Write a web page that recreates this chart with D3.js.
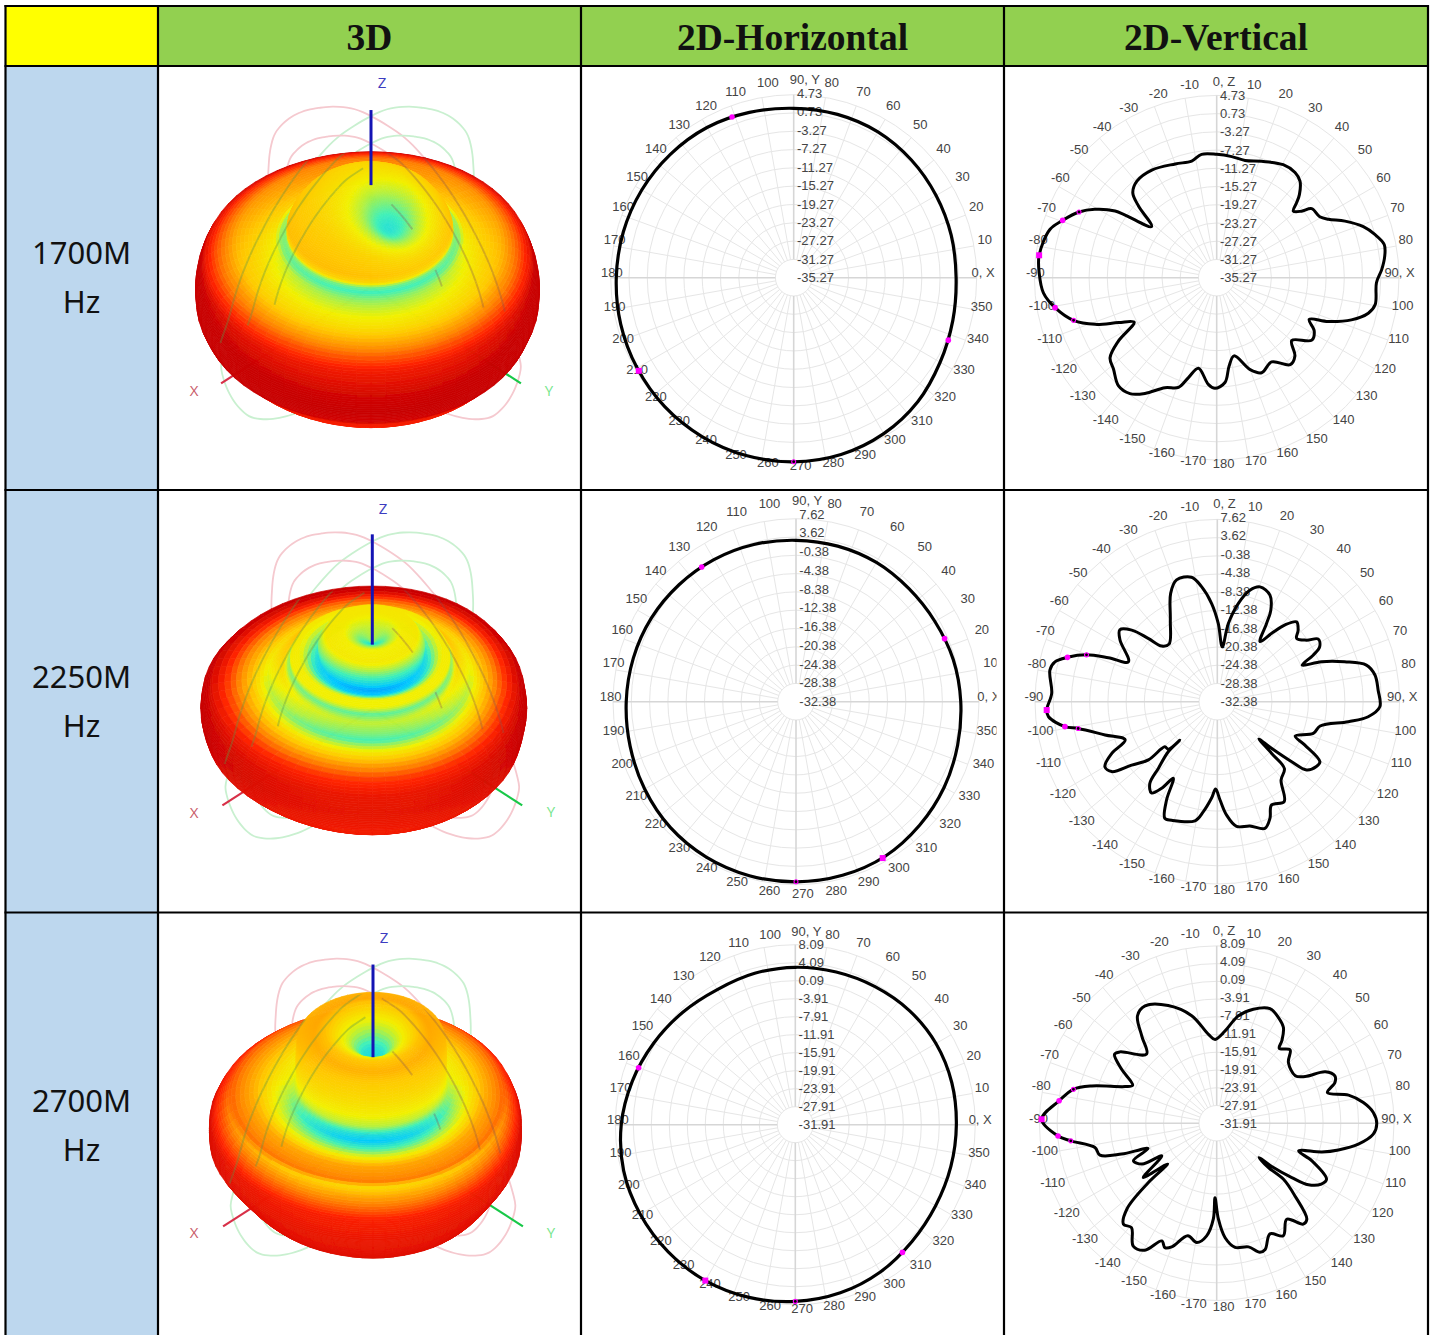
<!DOCTYPE html>
<html lang="en">
<head>
<meta charset="UTF-8">
<title>Antenna radiation patterns</title>
<script src="https://d3js.org/d3.v7.min.js"></script>
<style>
    html, body { margin: 0; padding: 0; background: #fff; overflow: hidden; }
    svg { display: block; }
</style>
</head>
<body>
<svg id="chart" width="1435" height="1335"></svg>
<script>
// table text
const bands = ["1700M", "2250M", "2700M"];
const headers = ["3D", "2D-Horizontal", "2D-Vertical"];
const verticalLabels = ["0, Z", "10", "20", "30", "40", "50", "60", "70", "80", "90, X", "100", "110", "120", "130", "140", "150", "160", "170", "180",
    "-170", "-160", "-150", "-140", "-130", "-120", "-110", "-100", "-90", "-80", "-70", "-60", "-50", "-40", "-30", "-20", "-10"];
const horizontalLabels = ["0, X", "10", "20", "30", "40", "50", "60", "70", "80", "90, Y", "100", "110", "120", "130", "140", "150", "160", "170", "180",
    "190", "200", "210", "220", "230", "240", "250", "260", "270", "280", "290", "300", "310", "320", "330", "340", "350"];

// radial tick values, dB
const rings1700 = [4.73, 0.73, -3.27, -7.27, -11.27, -15.27, -19.27, -23.27, -27.27, -31.27, -35.27];
const rings2250 = [7.62, 3.62, -0.38, -4.38, -8.38, -12.38, -16.38, -20.38, -24.38, -28.38, -32.38];
const rings2700 = [8.09, 4.09, 0.09, -3.91, -7.91, -11.91, -15.91, -19.91, -23.91, -27.91, -31.91];

// horizontal cuts: angle (deg, counter clockwise from X) and gain (dB)
const hAngles = [0, 15, 30, 45, 60, 75, 90, 105, 120, 135, 150, 165, 180, 195, 210, 225, 240, 255, 270, 285, 300, 315, 330, 345];
const h1700Gains = [0.23, 0.38, 0.67, 1.11, 1.54, 1.69, 1.76, 2.13, 2.64, 2.86, 3.08, 3.29, 3.51, 3.88, 4.24, 4.6, 4.82, 4.97, 4.97, 4.75, 4.1, 3.08, 1.69, 0.74];
const h1700MarkAngles = [111, 338, 211, 270];
const h1700MarkGains = [2.35, 1.18, 4.24, 4.97];
const h2250Gains = [3.63, 3.2, 2.68, 2.54, 2.76, 2.83, 2.9, 3.2, 3.49, 3.78, 4.14, 4.43, 4.73, 5.16, 5.82, 6.48, 6.84, 6.99, 6.99, 6.91, 6.62, 5.82, 5.02, 4.2];
const h2250MarkAngles = [23, 125, 299, 270];
const h2250MarkGains = [2.9, 3.56, 6.7, 6.99];
const h2700Gains = [3.88, 4.1, 4.18, 3.95, 3.51, 3.21, 3.07, 2.92, 2.77, 3.44, 4.4, 5.58, 6.77, 7.59, 7.88, 8.03, 8.09, 7.81, 7.36, 6.77, 5.88, 4.77, 4.1, 3.88];
const h2700MarkAngles = [160, 310, 240, 270];
const h2700MarkGains = [5.14, 5.14, 8.09, 7.36];
const hKinds = ["f", "f", "b", "h"];

// vertical cuts: angle (deg, clockwise from Z) and gain (dB)
const v1700Angles = [0, 7.1, 13.6, 21.1, 30.5, 36.7, 40.8, 44.8, 46.8, 49, 51.9, 54, 59.4, 62.4, 66.2, 70.8, 74.7, 78.8, 82.7, 87.1, 91.8, 99.6, 103.2, 107.4, 111.5, 114.3, 118.6, 123.3, 129.9, 135, 139.8, 146.9, 154.7, 160, 167.5, 172, 175.5, 180.9, 184.5, 191.4, 195.8, 199.2, 205.2, 211.8, 216.8, 222.2, 228.4, 233.1, 237.2, 241.7, 245.4, 249, 253.4, 259.5, 265, 271.6, 277.2, 286.2, 290.4, 295.5, 299.3, 303.3, 308.1, 312.5, 315.3, 320.4, 328.9, 340, 347.9, 353];
const v1700Gains = [-8.2, -8.5, -8.8, -7.9, -6.5, -6.5, -7.3, -9.5, -11.2, -13, -11.6, -9.5, -9, -7.6, -4.5, -1.2, 0.7, 2.2, 1.9, 1, -0.2, 0, -1.1, -4.3, -9, -13, -10.9, -10.3, -13.8, -11, -10.3, -13.2, -12.2, -13.8, -17.7, -15.7, -12.2, -11, -11.8, -15, -12.5, -9.8, -8.6, -5.4, -3.5, -3.2, -5, -6, -9.6, -14.7, -11.6, -6.7, -2.5, 0.8, 2.9, 3.7, 4, 2.8, 0.8, -1.8, -4.6, -8.6, -17.1, -12, -9.1, -7.8, -7.7, -8.7, -9.1, -8];
const v1700MarkAngles = [277.2, 290.4, 259.5, 295.5, 253.4];
const v1700MarkGains = [4, 0.8, 0.8, -1.8, -2.5];

const v2250Angles = [5.2, 8, 12.1, 16.3, 20.4, 26.3, 30.3, 32.2, 35.4, 38.5, 41.4, 44.8, 48.5, 51.4, 55.4, 58.2, 61.8, 64.1, 66.7, 69, 72.6, 76.2, 80.4, 85.9, 91.8, 95.7, 98.7, 103.3, 108.3, 113.8, 116.3, 120.3, 123.2, 127.4, 128.9, 130.7, 131.9, 133.6, 134.9, 140.9, 146.2, 152.3, 155.7, 159.4, 165.3, 171.2, 175.3, 178.4, 181.1, 183.4, 187.3, 190.6, 201.1, 204.2, 207.3, 209.9, 212.7, 215.8, 219.5, 221.5, 224.4, 224.2, 225.8, 229.3, 229.8, 233.5, 236.5, 240, 243.9, 247.5, 253.5, 259.1, 260.7, 264.9, 267.2, 272.9, 280.7, 283.8, 286.5, 289.7, 292, 294.2, 302.4, 306.4, 309.9, 312.5, 315, 320, 330.1, 336.7, 341.5, 348.3, 352.2, 356.7, 360.7];
const v2250Gains = [-20.3, -15.1, -10.3, -6.9, -5.5, -6.3, -9.1, -12.1, -16.2, -13.2, -9.9, -7.7, -8.7, -10.1, -8.6, -6.3, -6.9, -9, -12.1, -7.9, -3.1, 1.3, 2.7, 3, 3.3, 0.9, -3.3, -9.2, -10.2, -13.7, -11, -6.3, -6.4, -7.7, -11.4, -16.7, -20.1, -15.9, -11.6, -10.2, -6, -6.8, -4.3, -2.7, -4.2, -4.7, -7.4, -10.8, -13.2, -11.2, -8, -5.8, -4.5, -4.3, -8.1, -13, -9.8, -7.7, -9.1, -12.9, -17, -20.6, -17.4, -17.2, -12.6, -9, -4.6, -3.9, -6.6, -10.5, -6.7, -1.3, 1.5, 4.8, 5.1, 4, 5, 4.3, 1.9, -1.9, -6.6, -11, -7.1, -5.8, -7.9, -11.8, -15.1, -15.9, -11.7, -6.5, -4.2, -4.5, -6.9, -10.8, -15.2];
const v2250MarkAngles = [267.2, 286.5, 260.7, 289.7, 259.1];
const v2250MarkGains = [5.1, 1.9, 1.5, -1.9, -1.3];

const v2700Angles = [-1.1, 5.2, 11.4, 17.8, 24.9, 30.3, 34.9, 38.3, 39.9, 45, 49.7, 58.9, 62.2, 64.7, 68.2, 71, 74.6, 78, 82, 86.1, 90.2, 94, 98.4, 102.4, 105.3, 108.7, 111.6, 117, 120.2, 123.9, 125.9, 128.2, 129, 130.6, 130, 132.9, 136.8, 139.4, 143.9, 149.4, 154.3, 159, 161.5, 165.6, 171.6, 175.8, 179, 181.3, 182, 185.1, 189.5, 194.4, 200, 202.6, 205, 209.5, 214.2, 219.2, 222.7, 226.3, 229, 230.3, 233.5, 239.3, 241.3, 245.7, 249.7, 252, 254.7, 258.7, 263.1, 265.4, 271.3, 278.1, 283.3, 286.6, 291.8, 294.3, 299.6, 304, 306.4, 314.6, 319.3, 323.6, 328.6, 337.6, 346.9, 354.7];
const v2700Gains = [-13, -11, -7.2, -4.9, -3.4, -4.3, -5.6, -8.2, -9.9, -8.5, -10.7, -11.2, -9.35, -4.8, -3.2, -3.7, -6, -1.5, 1.5, 3.5, 4.2, 3.5, 0.4, -3.8, -7.3, -12.4, -8.8, -4.1, -4.6, -7, -11, -16.1, -19.6, -16.6, -12.3, -7.8, -2.2, -1.9, -5.1, -2.4, -4.2, -1.4, -1.2, -3.1, -3.6, -6, -10.3, -15.1, -10.3, -6.4, -4.6, -5.7, -2.2, -1.5, -2.6, 1, 1.6, -1.5, -0.9, -3.9, -11.5, -17.5, -11.3, -17.5, -12.7, -11.3, -15.4, -9.35, -4.6, -3.9, 1.25, 4, 7.6, 4, 1.3, -2.5, -9.65, -11.1, -7.2, -4.1, -4.8, -9.7, -6, -1.8, -0.9, -3.2, -7, -11.8];
const v2700MarkAngles = [271.3, 278.1, 265.4, 283.3, 263.1];
const v2700MarkGains = [7.6, 4, 4, 1.3, 1.25];
const vKinds = ["b", "f", "f", "h", "h"];

// 3D lobes: revolve a profile of polar angle (deg from +Z), radius and colour level
const lobe1700Polar = [0, 20, 35, 45, 48, 50, 53, 57, 62, 67, 72, 76, 80, 85, 90, 97, 104, 107, 115, 122, 135, 180];
const lobe1700Radius = [133, 132, 125, 116, 112, 108, 106, 115, 128, 144, 158, 167, 169, 171, 172, 172, 168, 163, 155, 147, 130, 110];
const lobe1700Level = [0.56, 0.58, 0.62, 0.64, 0.58, 0.36, 0.29, 0.38, 0.47, 0.56, 0.7, 0.82, 0.9, 0.94, 0.98, 1, 0.97, 0.9, 0.88, 0.88, 0.9, 0.9];

const lobe2250Polar = [0, 8, 16, 25, 32, 37, 41, 45, 49, 53, 58, 64, 67, 71, 75, 78, 83, 90, 100, 110, 125, 140, 180];
const lobe2250Radius = [84, 95, 105, 108, 100, 86, 87, 101, 105, 100, 103, 107, 110, 122, 140, 156, 162, 163, 160, 145, 125, 105, 95];
const lobe2250Level = [0.2, 0.3, 0.5, 0.52, 0.3, 0.1, 0.15, 0.5, 0.5, 0.32, 0.44, 0.36, 0.3, 0.52, 0.72, 0.86, 0.92, 0.93, 0.9, 0.9, 0.92, 0.92, 0.92];

const lobe2700Polar = [0, 6, 12, 20, 25, 32, 38, 43, 48, 53, 57, 62, 67, 70, 72, 73, 78, 85, 95, 105, 118, 130, 180];
const lobe2700Radius = [95, 100, 118, 137, 136, 139, 122, 110, 100, 96, 96, 107, 125, 136, 143, 145, 152, 156, 156, 146, 138, 127, 100];
const lobe2700Level = [0.22, 0.25, 0.45, 0.62, 0.66, 0.6, 0.55, 0.5, 0.42, 0.22, 0.15, 0.36, 0.68, 0.72, 0.76, 0.56, 0.72, 0.88, 0.92, 0.93, 0.95, 0.95, 0.95];
// far side of this lobe has no ridge, the rim just reddens
const lobe2700BackLevel = [0.22, 0.25, 0.45, 0.64, 0.68, 0.66, 0.6, 0.55, 0.52, 0.5, 0.5, 0.54, 0.66, 0.74, 0.8, 0.83, 0.9, 0.98, 0.98, 0.95, 0.95, 0.95, 0.95];

// off-axis dimple on the top lobe, one entry per band
const dimplePolar = [16, 0, 0];
const dimpleAzimuth = [45, 0, 0];
const dimpleDepth = [38, 0, 0];
const dimpleLevel = [0.33, 0, 0];

// the lobes lean a little to the left of the Z axis at their widest
const lobeLean = [-3.5, -8.5, -8];

// cut outlines drawn around the 3D lobe
const loopAngles = [-75, -64, -49, -21, -5, 13, 27, 43, 69, 84, 112, 132, 150];
const loopRadii = [150, 161, 181, 204, 221, 229, 223, 215, 205, 214, 184, 150, 120];
const loopScales = [1, 0.84];
const loopBandScale = [1, 0.98, 0.95];
// parts of those outlines seen on the surface: scale, from, to
const pinkThrough = [[1, 4, 69], [0.84, 4, 69], [0.56, 13, 30], [0.56, 50, 60]];
const greenThrough = [[1.05, 4, 76], [0.88, 4, 73], [0.72, 4, 67]];

const svg = d3.select("#chart");
const font = "'Liberation Sans', Arial, sans-serif";

// grid of the table
const colX = [5.5, 158, 581, 1004, 1428];
const rowY = [6, 66, 490, 912.5, 1340];

const levelColor = d3.scaleLinear()
    .domain([0, 0.15, 0.3, 0.42, 0.5, 0.62, 0.75, 0.87, 1])
    .range(["#0050ff", "#00c8ff", "#40f0b8", "#b4f040", "#f2f000", "#ffc800", "#ff8000", "#ff2400", "#c80000"]);

// soft edge of the 3D pictures
const soft = svg.append("defs").append("filter").attr("id", "soft");
soft.append("feGaussianBlur").attr("stdDeviation", 0.55);

function drawPolar(g, o) {
    const bottom = o.rings[o.rings.length - 1];
    const r = d3.scaleLinear().domain([bottom, o.rings[0]]).range([0, o.R]);
    const k = o.labelR / 182.3;
    const chart = g.append("g").attr("transform", `translate(${o.cx},${o.cy})`);

    chart.selectAll("circle.ring")
        .data(o.rings.slice(0, -1))
        .enter()
        .append("circle")
        .attr("class", "ring")
        .attr("r", d => r(d))
        .attr("fill", "none")
        .attr("stroke", "#e6e6e6");

    const hole = r(o.rings[o.rings.length - 2]);
    chart.selectAll("line.spoke")
        .data(d3.range(36))
        .enter()
        .append("line")
        .attr("class", "spoke")
        .attr("x1", i => hole * Math.sin(i * Math.PI / 18))
        .attr("y1", i => -hole * Math.cos(i * Math.PI / 18))
        .attr("x2", i => o.R * Math.sin(i * Math.PI / 18))
        .attr("y2", i => -o.R * Math.cos(i * Math.PI / 18))
        .attr("stroke", i => i % 9 === 0 ? "#d6d6d6" : "#e6e6e6")
        .attr("stroke-width", i => i % 9 === 0 ? 1.6 : 1);

    // angle labels, left anchored like the original plot
    chart.selectAll("text.angle")
        .data(o.labels)
        .enter()
        .append("text")
        .attr("class", "angle")
        .attr("x", (d, i) => {
            const t = o.thetaOf(i * 10) * Math.PI / 180;
            const s = Math.sin(t);
            let tweak = 0;
            if (d === "90, X") tweak = -15;
            else if (d === "0, X") tweak = -7;
            else if (!d.startsWith("-") && d.length === 3 && s > 0.97) tweak = -4.7;
            else if (!d.startsWith("-") && d.length === 2 && s > 0 && Math.cos(t) > 0) tweak = 2;
            return -4 + 186.7 * k * s + tweak;
        })
        .attr("y", (d, i) => -5 - 191 * k * Math.cos(o.thetaOf(i * 10) * Math.PI / 180))
        .attr("dy", "0.35em")
        .style("font-family", font)
        .style("font-size", "13px")
        .attr("fill", "#444")
        .text(d => d);

    const labelStep = o.labelR / (o.rings.length - 1);
    chart.selectAll("text.gain")
        .data(o.rings)
        .enter()
        .append("text")
        .attr("class", "gain")
        .attr("x", 3.3)
        .attr("y", (d, i) => -(o.rings.length - 1 - i) * labelStep)
        .attr("dy", "0.35em")
        .style("font-family", font)
        .style("font-size", "13px")
        .attr("fill", "#444")
        .text(d => d.toFixed(2));

    const outline = d3.lineRadial()
        .angle(d => o.thetaOf(d.a) * Math.PI / 180)
        .radius(d => r(d.g))
        .curve(o.curve);

    chart.append("path")
        .attr("d", outline(o.angles.map((a, i) => ({ a: a, g: o.gains[i] }))))
        .attr("fill", "none")
        .attr("stroke", "#000")
        .attr("stroke-width", o.lineWidth)
        .attr("stroke-linejoin", "round");

    // magenta peak and half power markers
    o.markAngles.forEach((a, i) => {
        const t = o.thetaOf(a) * Math.PI / 180;
        const x = r(o.markGains[i]) * Math.sin(t);
        const y = -r(o.markGains[i]) * Math.cos(t);
        const kind = o.markKinds[i];
        if (kind === "b") {
            chart.append("rect").attr("x", x - 3).attr("y", y - 3).attr("width", 6).attr("height", 6).attr("fill", "#ff00ff");
        } else if (kind === "f") {
            chart.append("circle").attr("cx", x).attr("cy", y).attr("r", 2.8).attr("fill", "#ff00ff");
        } else {
            chart.append("circle").attr("cx", x).attr("cy", y).attr("r", 2).attr("fill", "#000").attr("stroke", "#ff00ff").attr("stroke-width", 1.1);
        }
    });
}

const tiltCos = Math.cos(40 * Math.PI / 180);
const tiltSin = Math.sin(40 * Math.PI / 180);

function drawLobe(g, o, band) {
    const rOf = d3.scaleLinear().domain(o.polar).range(o.radius);
    const levelOf = d3.scaleLinear().domain(o.polar).range(o.level);
    const backOf = o.backLevel ? d3.scaleLinear().domain(o.polar).range(o.backLevel) : null;
    const rad = Math.PI / 180;
    const dPol = dimplePolar[band] * rad, dAz = dimpleAzimuth[band] * rad;
    const dDir = [Math.sin(dPol) * Math.sin(dAz), Math.sin(dPol) * Math.cos(dAz), Math.cos(dPol)];

    const project = (x, f, z) => [o.cx + x, o.cy - z * tiltCos + f * tiltSin];

    function vertex(alpha, phi) {
        const a = alpha * rad, p = phi * rad;
        const dir = [Math.sin(a) * Math.sin(p), Math.sin(a) * Math.cos(p), Math.cos(a)];
        const off = Math.acos(Math.min(1, dir[0] * dDir[0] + dir[1] * dDir[1] + dir[2] * dDir[2])) / rad;
        const w = Math.exp(-off * off / (2 * 13 * 13));
        const r = rOf(alpha) - dimpleDepth[band] * w;
        // colour is not quite symmetric: the valleys fade and the rim reddens towards the back
        const away = (1 - Math.cos(p)) / 2;
        let level = levelOf(alpha);
        if (backOf) {
            level += (backOf(alpha) - level) * Math.min(1, away * 1.6);
        } else {
            if (level < 0.55) level += (0.55 - level) * 0.55 * away;
            if (alpha > 55) level = Math.min(1, level + 0.2 * away);
        }
        level -= dimpleLevel[band] * w;
        const x = r * dir[0], f = r * dir[1], z = r * dir[2];
        const lean = lobeLean[band] * Math.min(1, (x / 160) * (x / 160));
        return { s: project(x + lean, f, z), depth: f * tiltCos + z * tiltSin, level: level };
    }

    function buildFacets(da, dp) {
        const out = [];
        for (let a = 0; a < 180; a += da) {
            for (let p = 0; p < 360; p += dp) {
                const v = [vertex(a, p), vertex(a, p + dp), vertex(a + da, p + dp), vertex(a + da, p)];
                if (d3.polygonArea(v.map(d => d.s)) >= 0) continue;
                out.push({
                    pts: v.map(d => d.s),
                    depth: d3.mean(v, d => d.depth),
                    level: d3.mean(v, d => d.level)
                });
            }
        }
        return out;
    }
    const facetPath = d => "M" + d.pts.map(p => p[0].toFixed(1) + "," + p[1].toFixed(1)).join("L") + "Z";

    // wire loops, behind the lobe
    const loopR = d3.scaleLinear().domain(loopAngles).range(loopRadii);
    function loopPoints(scale, side, from, to) {
        return d3.range(from, to + 0.01, 3).map(t => {
            const rr = loopR(t) * scale * loopBandScale[band];
            const h = rr * Math.sin(t * rad);
            const z = rr * Math.cos(t * rad);
            return project(side * h * Math.SQRT1_2, h * Math.SQRT1_2, z);
        });
    }
    const wire = d3.line().curve(d3.curveBasis);
    loopScales.forEach(s => {
        g.append("path").attr("d", wire(loopPoints(s, 1, -75, 150)))
            .attr("fill", "none").attr("stroke", "#f5c9cf").attr("stroke-width", 1.8);
        g.append("path").attr("d", wire(loopPoints(s, -1, -75, 150)))
            .attr("fill", "none").attr("stroke", "#c9f0d0").attr("stroke-width", 1.8);
    });

    // X and Y stubs
    const xEnd = project(-212 * Math.SQRT1_2, 212 * Math.SQRT1_2, 0);
    const yEnd = project(212 * Math.SQRT1_2, 212 * Math.SQRT1_2, 0);
    g.append("line").attr("x1", o.cx).attr("y1", o.cy).attr("x2", xEnd[0]).attr("y2", xEnd[1])
        .attr("stroke", "#d83048").attr("stroke-width", 2.2);
    g.append("line").attr("x1", o.cx).attr("y1", o.cy).attr("x2", yEnd[0]).attr("y2", yEnd[1])
        .attr("stroke", "#18c848").attr("stroke-width", 2.2);

    // facets of the surface, back to front
    const facets = buildFacets(1, 5);
    facets.sort((a, b) => d3.ascending(a.depth, b.depth));
    g.append("g")
        .attr("filter", "url(#soft)")
        .selectAll("path")
        .data(facets)
        .enter()
        .append("path")
        .attr("d", facetPath)
        .attr("fill", d => levelColor(d.level))
        .attr("stroke", d => levelColor(d.level))
        .attr("stroke-width", 0.7);

    // coarse copy of the surface used to keep the lines below on the lobe
    const clip = svg.select("defs").append("clipPath").attr("id", "lobeClip" + band);
    clip.selectAll("path")
        .data(buildFacets(5, 10))
        .enter()
        .append("path")
        .attr("d", facetPath);

    // the same outlines seen on the surface
    const onSurface = g.append("g").attr("clip-path", `url(#lobeClip${band})`);
    pinkThrough.forEach(t => {
        onSurface.append("path").attr("d", wire(loopPoints(t[0], 1, t[1], t[2])))
            .attr("fill", "none").attr("stroke", "rgba(130,85,80,0.32)").attr("stroke-width", 1.9);
    });
    greenThrough.forEach(t => {
        onSurface.append("path").attr("d", wire(loopPoints(t[0], -1, t[1], t[2])))
            .attr("fill", "none").attr("stroke", "rgba(95,150,70,0.36)").attr("stroke-width", 1.9);
    });

    // Z axis on top
    const zTop = project(0, 0, o.zTop), zEnd = project(0, 0, o.zEnd);
    g.append("line").attr("x1", zTop[0]).attr("y1", zTop[1]).attr("x2", zEnd[0]).attr("y2", zEnd[1])
        .attr("stroke", "#1414b4").attr("stroke-width", 3);

    const axisText = [["Z", o.zLabel, "#3c3cc0"], ["X", o.xLabel, "#c85a68"], ["Y", o.yLabel, "#78e68c"]];
    g.selectAll("text.axis")
        .data(axisText)
        .enter()
        .append("text")
        .attr("class", "axis")
        .attr("x", d => d[1][0])
        .attr("y", d => d[1][1])
        .attr("dy", "0.35em")
        .attr("text-anchor", "middle")
        .style("font-family", "'Open Sans', sans-serif")
        .style("font-size", "15px")
        .attr("fill", d => d[2])
        .text(d => d[0]);
}

// cell backgrounds
const bg = svg.append("g");
bg.append("rect").attr("x", colX[0]).attr("y", rowY[0]).attr("width", colX[1] - colX[0]).attr("height", rowY[1] - rowY[0]).attr("fill", "#ffff00");
bg.append("rect").attr("x", colX[1]).attr("y", rowY[0]).attr("width", colX[4] - colX[1]).attr("height", rowY[1] - rowY[0]).attr("fill", "#92d050");
bg.append("rect").attr("x", colX[0]).attr("y", rowY[1]).attr("width", colX[1] - colX[0]).attr("height", rowY[4] - rowY[1]).attr("fill", "#bdd7ee");

const lobes = [
    { polar: lobe1700Polar, radius: lobe1700Radius, level: lobe1700Level, cx: 371, cy: 287, zTop: 231, zEnd: 133, zLabel: [382, 83], xLabel: [194, 391], yLabel: [549, 391] },
    { polar: lobe2250Polar, radius: lobe2250Radius, level: lobe2250Level, cx: 372.3, cy: 709, zTop: 228, zEnd: 84, zLabel: [383, 509], xLabel: [194, 813], yLabel: [551, 812] },
    { polar: lobe2700Polar, radius: lobe2700Radius, level: lobe2700Level, backLevel: lobe2700BackLevel, cx: 373, cy: 1130, zTop: 216, zEnd: 95, zLabel: [384, 938], xLabel: [194, 1233], yLabel: [551, 1233] }
];
lobes.forEach((o, i) => drawLobe(svg.append("g"), o, i));

const hTheta = a => 90 - a;
const vTheta = a => a;
const hCurve = d3.curveCardinalClosed.tension(0);
const vCurve = d3.curveCatmullRomClosed.alpha(0.5);
const polars = [
    { rings: rings1700, labels: horizontalLabels, thetaOf: hTheta, curve: hCurve, angles: hAngles, gains: h1700Gains, markAngles: h1700MarkAngles, markGains: h1700MarkGains, markKinds: hKinds, cx: 793.7, cy: 277.7, R: 183, labelR: 184.3, lineWidth: 3.2 },
    { rings: rings2250, labels: horizontalLabels, thetaOf: hTheta, curve: hCurve, angles: hAngles, gains: h2250Gains, markAngles: h2250MarkAngles, markGains: h2250MarkGains, markKinds: hKinds, cx: 796, cy: 701.7, R: 183, labelR: 187.7, lineWidth: 3.2 },
    { rings: rings2700, labels: horizontalLabels, thetaOf: hTheta, curve: hCurve, angles: hAngles, gains: h2700Gains, markAngles: h2700MarkAngles, markGains: h2700MarkGains, markKinds: hKinds, cx: 795.3, cy: 1124.7, R: 180, labelR: 180, lineWidth: 3.2 },
    { rings: rings1700, labels: verticalLabels, thetaOf: vTheta, curve: vCurve, angles: v1700Angles, gains: v1700Gains, markAngles: v1700MarkAngles, markGains: v1700MarkGains, markKinds: vKinds, cx: 1216.7, cy: 277.7, R: 182.3, labelR: 182.3, lineWidth: 3 },
    { rings: rings2250, labels: verticalLabels, thetaOf: vTheta, curve: vCurve, angles: v2250Angles, gains: v2250Gains, markAngles: v2250MarkAngles, markGains: v2250MarkGains, markKinds: vKinds, cx: 1217.3, cy: 701.7, R: 182.3, labelR: 184.3, lineWidth: 3 },
    { rings: rings2700, labels: verticalLabels, thetaOf: vTheta, curve: vCurve, angles: v2700Angles, gains: v2700Gains, markAngles: v2700MarkAngles, markGains: v2700MarkGains, markKinds: vKinds, cx: 1216.7, cy: 1123.2, R: 177.3, labelR: 179.3, lineWidth: 3 }
];
polars.forEach(o => drawPolar(svg.append("g"), o));

// the plot pictures stop short of the cell border on the lower rows
svg.append("rect").attr("x", 996.5).attr("y", 490).attr("width", 7).attr("height", 422).attr("fill", "#fff");
svg.append("rect").attr("x", 994.5).attr("y", 913).attr("width", 9).attr("height", 422).attr("fill", "#fff");

// table lines
const lines = svg.append("g").attr("stroke", "#000").attr("stroke-width", 2.2);
colX.forEach(x => lines.append("line").attr("x1", x).attr("x2", x).attr("y1", rowY[0] - 1).attr("y2", 1335));
rowY.slice(0, 4).forEach(y => lines.append("line").attr("x1", colX[0] - 1).attr("x2", colX[4] + 1).attr("y1", y).attr("y2", y));

// text of the table
svg.selectAll("text.head")
    .data(headers)
    .enter()
    .append("text")
    .attr("class", "head")
    .attr("x", (d, i) => (colX[i + 1] + colX[i + 2]) / 2)
    .attr("y", 50)
    .attr("text-anchor", "middle")
    .style("font-family", "'Liberation Serif', serif")
    .style("font-weight", "bold")
    .style("font-size", "37.5px")
    .attr("fill", "#111")
    .text(d => d);

const bandText = svg.append("g")
    .style("font-family", "'Noto Sans', sans-serif")
    .style("font-size", "31px")
    .attr("fill", "#111")
    .attr("text-anchor", "middle");
bands.forEach((b, i) => {
    const base = [264, 688, 1112][i];
    bandText.append("text").attr("x", 81.5).attr("y", base).text(b);
    bandText.append("text").attr("x", 81.5).attr("y", base + 49).text("Hz");
});
</script>
</body>
</html>
